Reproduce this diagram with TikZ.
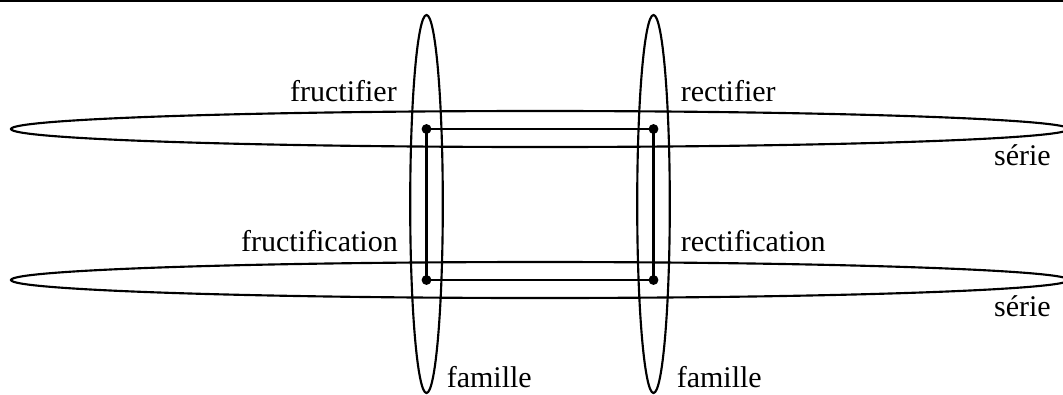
\documentclass[tikz,border=0pt]{standalone}
\usepackage{fontspec}
\setmainfont{Liberation Serif}
\begin{document}
\begin{tikzpicture}[x=0.75pt,y=-0.75pt,
  curve/.style={line width=1.6pt},
  link/.style={line width=1.6pt},
  dot/.style={circle,fill=black,inner sep=0pt,minimum size=7.4pt},
  lab/.style={inner sep=0pt,font=\fontsize{22.5}{27}\selectfont}]
\useasboundingbox (0,0) rectangle (1063,394);
\clip (0,0) rectangle (1063,394);
\draw[line width=1.8pt] (0,1) -- (1063,1);
% series (horizontal) and families (vertical)
\draw[curve] (540,129) ellipse [x radius=529, y radius=18];
\draw[curve] (540,280) ellipse [x radius=529, y radius=18];
\draw[curve] (426.5,204) ellipse [x radius=16.3, y radius=189];
\draw[curve] (653.5,204) ellipse [x radius=16.3, y radius=189];
% points
\node[dot] (a) at (426.5,129) {};
\node[dot] (b) at (653.5,129) {};
\node[dot] (c) at (426.5,280) {};
\node[dot] (d) at (653.5,280) {};
\draw[link] (a.center) -- (b.center) -- (d.center) -- (c.center) -- cycle;
% labels
\node[lab,anchor=base east] (l1) at (397,101.7) {fructifier};
\node[lab,anchor=base west] (l2) at (680.5,101.7) {rectifier};
\node[lab,anchor=base east] (l3) at (398,251.7) {fructification};
\node[lab,anchor=base west] (l4) at (680.5,251.7) {rectification};
\node[lab,anchor=base east] (l5) at (1051,165) {série};
\node[lab,anchor=base east] (l6) at (1051,316.7) {série};
\node[lab,anchor=base west] (l7) at (446.5,387.7) {famille};
\node[lab,anchor=base west] (l8) at (676.5,387.7) {famille};
\end{tikzpicture}
\end{document}
